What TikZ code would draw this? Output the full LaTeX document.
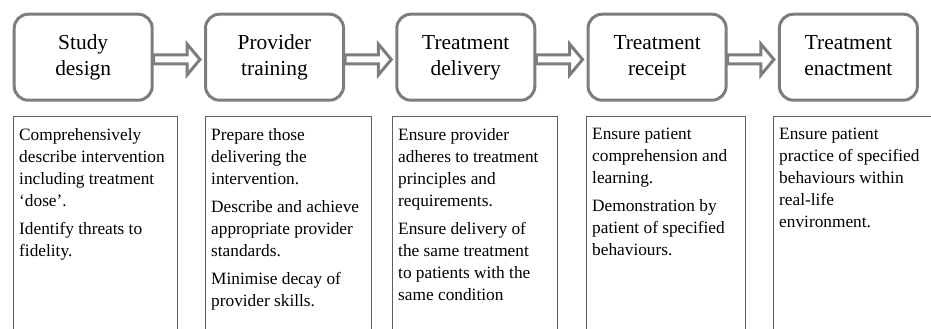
\documentclass[tikz,border=0pt]{standalone}
\usepackage{fontspec}
\setmainfont{Liberation Serif}
\usetikzlibrary{calc}
\definecolor{boxgray}{RGB}{125,125,129}
\definecolor{framegray}{RGB}{95,95,95}
\begin{document}
\begin{tikzpicture}[x=1pt,y=1pt,
  headbox/.style={draw=boxgray, line width=3pt, rounded corners=14pt, minimum width=138pt, minimum height=86pt, inner sep=0pt, align=center, font=\fontsize{21.4}{26}\selectfont},
  framebox/.style={draw=framegray, line width=1.1pt, anchor=north west, minimum height=240pt, inner sep=0pt},
  desc/.style={anchor=north west, inner sep=0pt, align=left, font=\fontsize{17.3}{22}\selectfont},
  arrowline/.style={draw=boxgray, line width=3pt, line join=miter}]
\useasboundingbox (0,0) rectangle (931,-329);
\clip (0,0) rectangle (931,-329);

% heading boxes
\node[headbox] (h1) at (83.2,-57.2)  {\strut Study\\design\strut};
\node[headbox] (h2) at (274.5,-57.2) {\strut Provider\\training\strut};
\node[headbox] (h3) at (465.8,-57.2) {\strut Treatment\\delivery\strut};
\node[headbox] (h4) at (657.1,-57.2) {\strut Treatment\\receipt\strut};
\node[headbox] (h5) at (848.4,-57.2) {\strut Treatment\\enactment\strut};

% hollow arrows
\foreach \a/\b in {h1/h2,h2/h3,h3/h4,h4/h5}{
  \path (\a.east) ++(0,-2.3) coordinate (s) (\b.west) ++(-4,-2.3) coordinate (t);
  \draw[arrowline] let \p1=(s), \p2=(t) in
    (\x1,\y1+4.5) -- (\x2-13,\y1+4.5) -- (\x2-13,\y1+15.5) -- (\x2,\y1)
    -- (\x2-13,\y1-15.5) -- (\x2-13,\y1-4.5) -- (\x1,\y1-4.5) -- cycle;
}

% description frames
\node[framebox, minimum width=164pt] (f1) at (12.5,-115.5) {};
\node[framebox, minimum width=166pt] (f2) at (204.5,-115.5) {};
\node[framebox, minimum width=165pt] (f3) at (391.5,-115.5) {};
\node[framebox, minimum width=159pt] (f4) at (585.5,-115.5) {};
\node[framebox, minimum width=170pt] (f5) at (772.5,-115.5) {};

% description texts
\node[desc] (d1) at ($(f1.north west)+(6.5,-12.7)$) {Comprehensively\\describe intervention\\including treatment\\‘dose’.\\[6pt]Identify threats to\\fidelity.};
\node[desc] (d2) at ($(f2.north west)+(6.5,-12.7)$) {Prepare those\\delivering the\\intervention.\\[6pt]Describe and achieve\\appropriate provider\\standards.\\[6pt]Minimise decay of\\provider skills.};
\node[desc] (d3) at ($(f3.north west)+(6.5,-12.7)$) {Ensure provider\\adheres to treatment\\principles and\\requirements.\\[6pt]Ensure delivery of\\the same treatment\\to patients with the\\same condition};
\node[desc] (d4) at ($(f4.north west)+(6.5,-12.7)$) {Ensure patient\\comprehension and\\learning.\\[6pt]Demonstration by\\patient of specified\\behaviours.};
\node[desc] (d5) at ($(f5.north west)+(6.5,-12.7)$) {Ensure patient\\practice of specified\\behaviours within\\real-life\\environment.};
\end{tikzpicture}
\end{document}
